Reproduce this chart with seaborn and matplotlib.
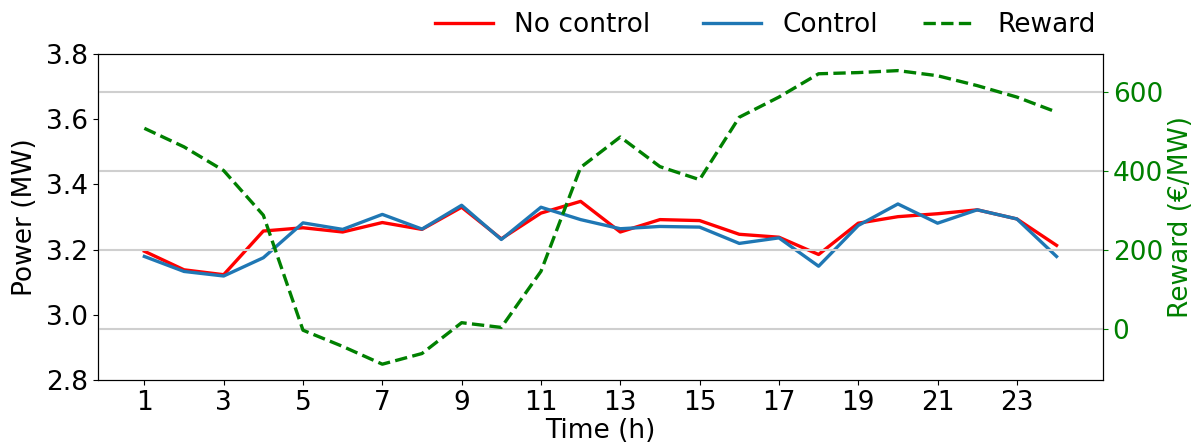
import pandas as pd
import matplotlib
matplotlib.use('Agg')
import matplotlib.pyplot as plt
import seaborn as sns

hours = list(range(1, 25))
no_control = [3.195, 3.138, 3.123, 3.257, 3.267, 3.254, 3.283, 3.262, 3.330, 3.233, 3.312, 3.348,
              3.254, 3.292, 3.289, 3.247, 3.238, 3.185, 3.281, 3.301, 3.310, 3.322, 3.294, 3.213]
control = [3.179, 3.133, 3.119, 3.175, 3.282, 3.262, 3.308, 3.263, 3.336, 3.231, 3.330, 3.292,
           3.264, 3.271, 3.269, 3.219, 3.236, 3.149, 3.274, 3.340, 3.281, 3.322, 3.294, 3.179]
reward = [508, 461, 401, 288, -3, -44, -89, -62, 16, 4, 146, 409,
          486, 411, 378, 536, 587, 646, 649, 654, 641, 616, 587, 549]

df = pd.DataFrame({'hour': hours, 'no_control': no_control, 'control': control, 'reward': reward})

plt.rcParams['font.family'] = ['DejaVu Sans']
fs = 19

fig = plt.figure(figsize=(11.96, 4.46), dpi=100)
ax = fig.add_axes([0.0819, 0.148, 0.8403, 0.7309])
ax2 = ax.twinx()

sns.lineplot(data=df, x='hour', y='no_control', ax=ax, color='red', lw=2.4, label='No control')
sns.lineplot(data=df, x='hour', y='control', ax=ax, color='#1f77b4', lw=2.4, label='Control')
sns.lineplot(data=df, x='hour', y='reward', ax=ax2, color='green', lw=2.4, linestyle='--', label='Reward')

ax.set_xlim(-0.17, 25.17)
ax.set_ylim(2.8, 3.8)
ax.set_xticks(range(1, 24, 2))
ax.set_yticks([2.8, 3.0, 3.2, 3.4, 3.6, 3.8])
ax.set_xlabel('Time (h)', fontsize=fs, labelpad=2)
ax.set_ylabel('Power (MW)', fontsize=fs, labelpad=6)
ax.tick_params(labelsize=fs)

ax2.set_yticks([0, 200, 400, 600])
ax2.set_ylim(-129, 696)
ax2.grid(True, axis='y', color='#cfcfcf', lw=1.5)
ax2.set_ylabel('Reward (€/MW)', fontsize=fs, color='green')
ax2.tick_params(axis='y', labelsize=fs, colors='green')

ax.legend(loc='lower right', bbox_to_anchor=(0.80, 0.975), ncol=2, frameon=False,
          fontsize=fs, handlelength=2.2, columnspacing=2.0)
ax2.legend(loc='lower right', bbox_to_anchor=(1.016, 0.975), frameon=False,
           fontsize=fs, handlelength=2.0)

plt.savefig('out.png', dpi=100)
